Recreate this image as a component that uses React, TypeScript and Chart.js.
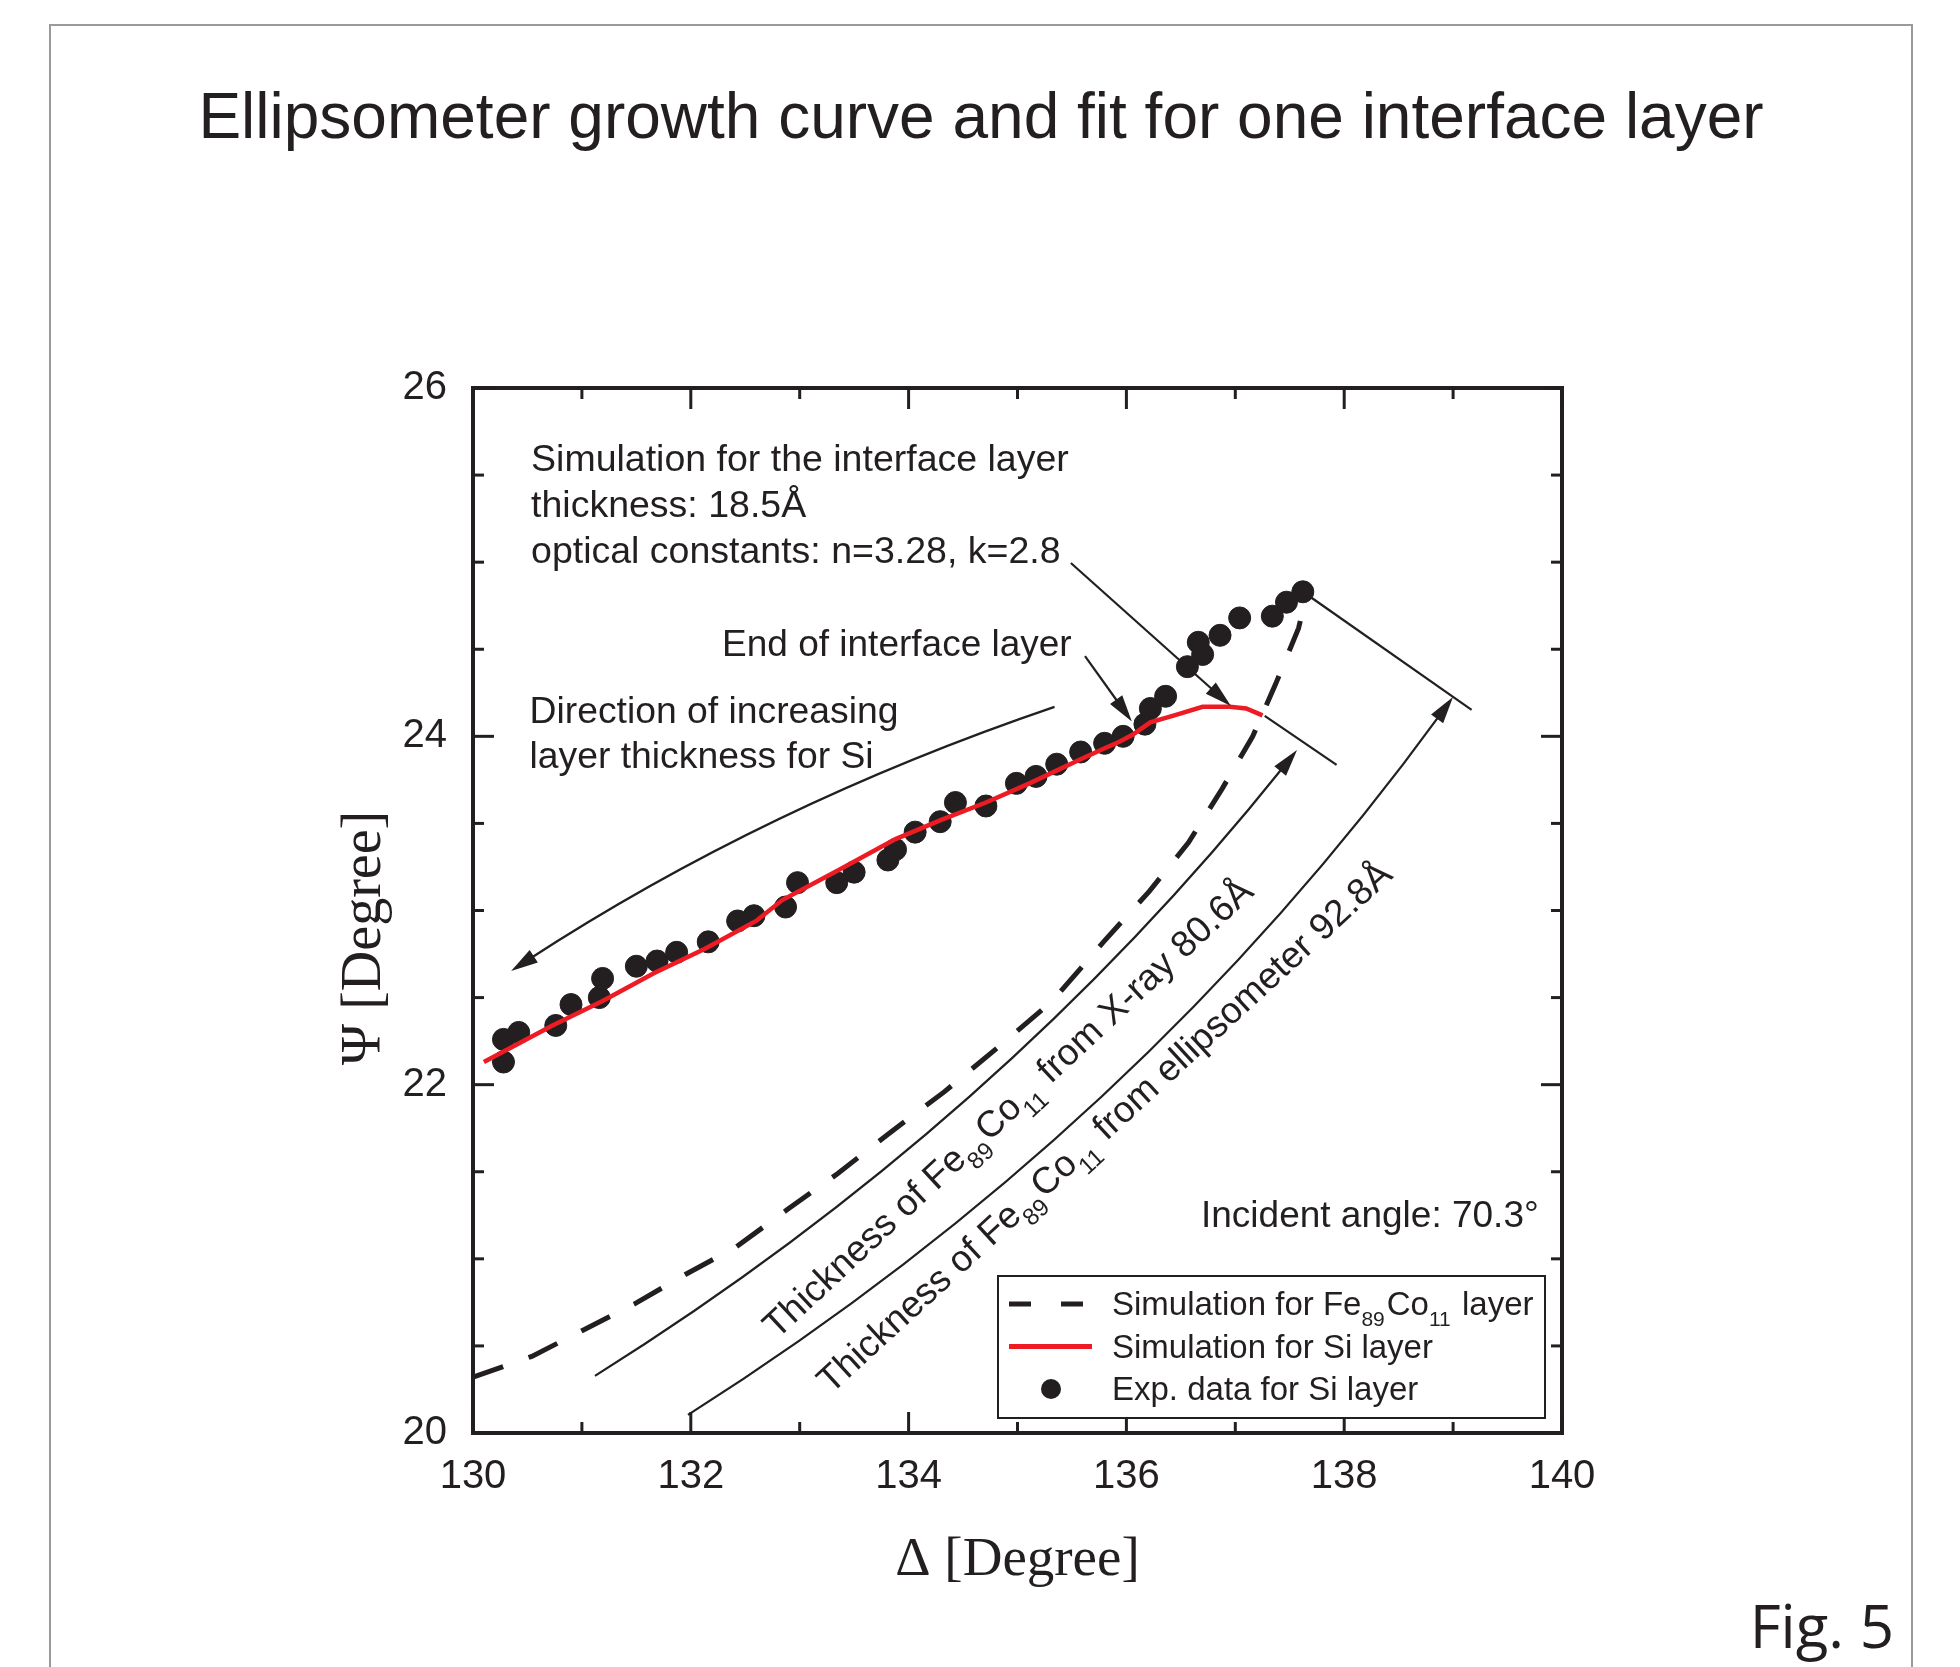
import React, { useEffect, useRef } from "react";
import { Chart, registerables } from "chart.js";

Chart.register(...registerables);

const W = 1960;
const H = 1667;
const DARK = "#231f20";
const RED = "#ed1c24";
const SANS = "'Liberation Sans', Arial, sans-serif";
const SERIF = "'Liberation Serif', 'Times New Roman', serif";

// ---------- data ----------
const expDelta = [130.28, 130.28, 130.42, 130.76, 130.9, 131.16, 131.19, 131.5, 131.69, 131.87, 132.16, 132.43, 132.58, 132.87, 132.98, 133.34, 133.5, 133.81, 133.88, 134.06, 134.29, 134.43, 134.71, 134.99, 135.17, 135.36, 135.58, 135.8, 135.97, 136.17, 136.22, 136.36, 136.56, 136.66, 136.7, 136.86, 137.04, 137.34, 137.47, 137.62];
const expPsi = [22.13, 22.26, 22.3, 22.34, 22.46, 22.5, 22.61, 22.68, 22.71, 22.76, 22.82, 22.94, 22.97, 23.02, 23.16, 23.16, 23.22, 23.29, 23.35, 23.45, 23.51, 23.62, 23.6, 23.73, 23.77, 23.84, 23.91, 23.96, 24.0, 24.07, 24.16, 24.23, 24.4, 24.54, 24.47, 24.58, 24.68, 24.69, 24.77, 24.83];

const siSimDelta = [130.1, 130.73, 131.19, 131.66, 132.13, 132.6, 132.84, 133.35, 133.88, 134.3, 134.71, 135.11, 135.55, 135.76, 135.94, 136.06, 136.22, 136.44, 136.7, 136.95, 137.1, 137.25];
const siSimPsi = [22.13, 22.34, 22.48, 22.64, 22.78, 22.94, 23.06, 23.23, 23.41, 23.52, 23.62, 23.73, 23.86, 23.92, 23.97, 24.01, 24.08, 24.12, 24.17, 24.17, 24.16, 24.12];

const feSimDelta = [130.0, 130.54, 131.01, 131.48, 131.95, 132.42, 132.88, 133.35, 133.82, 134.33, 134.85, 135.32, 135.79, 136.21, 136.57, 136.88, 137.16, 137.37, 137.58, 137.62];
const feSimPsi = [20.32, 20.44, 20.59, 20.74, 20.91, 21.07, 21.28, 21.49, 21.72, 21.96, 22.23, 22.48, 22.82, 23.11, 23.39, 23.7, 24.0, 24.3, 24.62, 24.72];

const xMajorTicks = [130, 132, 134, 136, 138, 140];
const xMinorTicks = [131, 133, 135, 137, 139];
const yMajorTicks = [20, 22, 24, 26];
const yMinorTicks = [20.5, 21, 21.5, 22.5, 23, 23.5, 24.5, 25, 25.5];

const titleText = "Ellipsometer growth curve and fit for one interface layer";
const xTitle = "Δ [Degree]";
const yTitle = "Ψ [Degree]";
const figLabel = "Fig. 5";

type Seg = { t: string; sub?: boolean };

// annotation texts (anchor in data units: left/baseline)
const notes: { segs: Seg[]; at: [number, number]; size: number }[] = [
  { segs: [{ t: "Simulation for the interface layer" }], at: [130.533, 25.524], size: 37.5 },
  { segs: [{ t: "thickness: 18.5Å" }], at: [130.533, 25.259], size: 37.5 },
  { segs: [{ t: "optical constants: n=3.28, k=2.8" }], at: [130.533, 24.995], size: 37.5 },
  { segs: [{ t: "End of interface layer" }], at: [132.287, 24.461], size: 37 },
  { segs: [{ t: "Direction of increasing" }], at: [130.519, 24.077], size: 37.3 },
  { segs: [{ t: "layer thickness for Si" }], at: [130.519, 23.819], size: 37.3 },
  { segs: [{ t: "Incident angle: 70.3°" }], at: [136.685, 21.184], size: 37 },
];

const curveLabels: { segs: Seg[]; at: [number, number]; angle: number }[] = [
  {
    segs: [{ t: "Thickness of Fe" }, { t: "89", sub: true }, { t: "Co" }, { t: "11", sub: true }, { t: " from X-ray 80.6Å" }],
    at: [132.792, 20.535],
    angle: -43,
  },
  {
    segs: [{ t: "Thickness of Fe" }, { t: "89", sub: true }, { t: "Co" }, { t: "11", sub: true }, { t: " from ellipsometer 92.8Å" }],
    at: [133.287, 20.219],
    angle: -42.6,
  },
];

// arrows (data units)
const curvedArrows: { from: [number, number]; ctrl: [number, number]; to: [number, number] }[] = [
  { from: [135.34, 24.169], ctrl: [132.69, 23.606], to: [130.35, 22.653] },
  { from: [131.12, 20.328], ctrl: [134.83, 21.781], to: [137.567, 23.922] },
  { from: [131.974, 20.104], ctrl: [136.116, 21.746], to: [138.999, 24.226] },
];
const straightArrows: { from: [number, number]; to: [number, number] }[] = [
  { from: [135.62, 24.461], to: [136.05, 24.085] },
  { from: [135.49, 24.995], to: [136.96, 24.174] },
];
const markerLines: [number, number][][] = [
  [[137.27, 24.117], [137.93, 23.836]],
  [[137.69, 24.8], [139.17, 24.152]],
];

const legendItems: { kind: string; segs: Seg[] }[] = [
  { kind: "dash", segs: [{ t: "Simulation for Fe" }, { t: "89", sub: true }, { t: "Co" }, { t: "11", sub: true }, { t: " layer" }] },
  { kind: "red", segs: [{ t: "Simulation for Si layer" }] },
  { kind: "dot", segs: [{ t: "Exp. data for Si layer" }] },
];

function drawSegs(ctx: CanvasRenderingContext2D, segs: Seg[], x: number, y: number, size: number) {
  let cx = x;
  for (const s of segs) {
    const fs = s.sub ? Math.round(size * 0.64) : size;
    ctx.font = `${fs}px ${SANS}`;
    ctx.fillText(s.t, cx, y + (s.sub ? size * 0.33 : 0));
    cx += ctx.measureText(s.t).width + (s.sub ? 2 : 0);
  }
}

function arrowHead(ctx: CanvasRenderingContext2D, tx: number, ty: number, ang: number) {
  const L = 27;
  const hw = 7.5;
  const bx = tx - L * Math.cos(ang);
  const by = ty - L * Math.sin(ang);
  const nx = -Math.sin(ang);
  const ny = Math.cos(ang);
  ctx.beginPath();
  ctx.moveTo(tx, ty);
  ctx.lineTo(bx + nx * hw, by + ny * hw);
  ctx.lineTo(bx - nx * hw, by - ny * hw);
  ctx.closePath();
  ctx.fill();
}

const decor = {
  id: "decor",
  beforeDraw(chart: any) {
    const ctx: CanvasRenderingContext2D = chart.ctx;
    ctx.save();
    ctx.fillStyle = "#ffffff";
    ctx.fillRect(0, 0, W, H);
    // outer page frame
    ctx.strokeStyle = "#9a9a9a";
    ctx.lineWidth = 2;
    ctx.beginPath();
    ctx.moveTo(50, H);
    ctx.lineTo(50, 25);
    ctx.lineTo(1912, 25);
    ctx.lineTo(1912, H);
    ctx.stroke();
    // title
    ctx.fillStyle = DARK;
    ctx.font = `64px ${SANS}`;
    ctx.textAlign = "center";
    ctx.textBaseline = "alphabetic";
    ctx.fillText(titleText, 981, 138);
    // fig label
    ctx.font = `60px 'Open Sans', ${SANS}`;
    ctx.textAlign = "right";
    ctx.fillText(figLabel, 1894, 1648);
    ctx.restore();
  },
  afterDatasetsDraw(chart: any) {
    const ctx: CanvasRenderingContext2D = chart.ctx;
    const ca = chart.chartArea;
    const sx = chart.scales.x;
    const sy = chart.scales.y;
    const px = (v: number) => sx.getPixelForValue(v);
    const py = (v: number) => sy.getPixelForValue(v);
    ctx.save();
    ctx.strokeStyle = DARK;
    ctx.fillStyle = DARK;

    // annotation lines
    ctx.lineWidth = 2.2;
    for (const a of curvedArrows) {
      const x0 = px(a.from[0]), y0 = py(a.from[1]);
      const cx = px(a.ctrl[0]), cy = py(a.ctrl[1]);
      const x1 = px(a.to[0]), y1 = py(a.to[1]);
      const ang = Math.atan2(y1 - cy, x1 - cx);
      ctx.beginPath();
      ctx.moveTo(x0, y0);
      ctx.quadraticCurveTo(cx, cy, x1 - 20 * Math.cos(ang), y1 - 20 * Math.sin(ang));
      ctx.stroke();
      arrowHead(ctx, x1, y1, ang);
    }
    for (const a of straightArrows) {
      const x0 = px(a.from[0]), y0 = py(a.from[1]);
      const x1 = px(a.to[0]), y1 = py(a.to[1]);
      const ang = Math.atan2(y1 - y0, x1 - x0);
      ctx.beginPath();
      ctx.moveTo(x0, y0);
      ctx.lineTo(x1 - 20 * Math.cos(ang), y1 - 20 * Math.sin(ang));
      ctx.stroke();
      arrowHead(ctx, x1, y1, ang);
    }
    for (const l of markerLines) {
      ctx.beginPath();
      ctx.moveTo(px(l[0][0]), py(l[0][1]));
      ctx.lineTo(px(l[1][0]), py(l[1][1]));
      ctx.stroke();
    }

    // texts
    ctx.textAlign = "left";
    ctx.textBaseline = "alphabetic";
    for (const n of notes) {
      drawSegs(ctx, n.segs, px(n.at[0]), py(n.at[1]), n.size);
    }
    for (const c of curveLabels) {
      ctx.save();
      ctx.translate(px(c.at[0]), py(c.at[1]));
      ctx.rotate((c.angle * Math.PI) / 180);
      drawSegs(ctx, c.segs, 0, 0, 37);
      ctx.restore();
    }

    // plot frame
    ctx.lineWidth = 4;
    ctx.strokeRect(ca.left, ca.top, ca.right - ca.left, ca.bottom - ca.top);
    // inward ticks on all sides
    ctx.lineWidth = 3;
    const tick = (x0: number, y0: number, x1: number, y1: number) => {
      ctx.beginPath();
      ctx.moveTo(x0, y0);
      ctx.lineTo(x1, y1);
      ctx.stroke();
    };
    for (const v of xMajorTicks) {
      const x = px(v);
      tick(x, ca.bottom, x, ca.bottom - 21);
      tick(x, ca.top, x, ca.top + 21);
    }
    for (const v of xMinorTicks) {
      const x = px(v);
      tick(x, ca.bottom, x, ca.bottom - 11);
      tick(x, ca.top, x, ca.top + 11);
    }
    for (const v of yMajorTicks) {
      const y = py(v);
      tick(ca.left, y, ca.left + 21, y);
      tick(ca.right, y, ca.right - 21, y);
    }
    for (const v of yMinorTicks) {
      const y = py(v);
      tick(ca.left, y, ca.left + 11, y);
      tick(ca.right, y, ca.right - 11, y);
    }

    // y axis title
    ctx.save();
    ctx.translate(365, ca.top + 550);
    ctx.rotate(-Math.PI / 2);
    ctx.font = `56px ${SERIF}`;
    ctx.textAlign = "center";
    ctx.textBaseline = "middle";
    ctx.fillText(yTitle, 0, 0);
    ctx.restore();

    // legend
    const lx = ca.right - 564;
    const ly = ca.bottom - 157;
    const lw = 547;
    const lh = 142;
    ctx.fillStyle = "#ffffff";
    ctx.fillRect(lx, ly, lw, lh);
    ctx.strokeStyle = DARK;
    ctx.lineWidth = 2;
    ctx.strokeRect(lx, ly, lw, lh);
    ctx.fillStyle = DARK;
    legendItems.forEach((it, i) => {
      const cy = ly + 28 + i * 42.5;
      if (it.kind === "dash") {
        ctx.save();
        ctx.lineWidth = 5;
        ctx.setLineDash([22, 30]);
        ctx.beginPath();
        ctx.moveTo(lx + 11, cy);
        ctx.lineTo(lx + 85, cy);
        ctx.stroke();
        ctx.restore();
      } else if (it.kind === "red") {
        ctx.save();
        ctx.strokeStyle = RED;
        ctx.lineWidth = 5;
        ctx.beginPath();
        ctx.moveTo(lx + 11, cy);
        ctx.lineTo(lx + 94, cy);
        ctx.stroke();
        ctx.restore();
      } else {
        ctx.beginPath();
        ctx.arc(lx + 53, cy, 10, 0, Math.PI * 2);
        ctx.fill();
      }
      ctx.textAlign = "left";
      ctx.textBaseline = "alphabetic";
      drawSegs(ctx, it.segs, lx + 114, cy + 11, 33);
    });

    ctx.restore();
  },
};

export default function App() {
  const ref = useRef<HTMLCanvasElement | null>(null);
  useEffect(() => {
    if (!ref.current) return;
    Chart.defaults.font.family = SANS;
    Chart.defaults.color = DARK;
    const chart = new Chart(ref.current, {
      type: "scatter",
      data: {
        datasets: [
          {
            label: "Exp. data for Si layer",
            data: expDelta.map((x, i) => ({ x, y: expPsi[i] })),
            showLine: false,
            pointRadius: 11,
            pointBackgroundColor: DARK,
            pointBorderColor: DARK,
            pointBorderWidth: 1,
            order: 3,
          },
          {
            label: "Simulation for Fe89Co11 layer",
            data: feSimDelta.map((x, i) => ({ x, y: feSimPsi[i] })),
            showLine: true,
            borderColor: DARK,
            borderWidth: 5,
            borderDash: [32, 27],
            pointRadius: 0,
            tension: 0,
            order: 2,
          },
          {
            label: "Simulation for Si layer",
            data: siSimDelta.map((x, i) => ({ x, y: siSimPsi[i] })),
            showLine: true,
            borderColor: RED,
            borderWidth: 4.5,
            pointRadius: 0,
            tension: 0,
            order: 1,
          },
        ],
      },
      options: {
        responsive: false,
        animation: false,
        devicePixelRatio: 1,
        events: [],
        layout: { padding: { left: 0, top: 388, right: 398, bottom: 0 } },
        plugins: {
          legend: { display: false },
          tooltip: { enabled: false },
          title: { display: false },
        },
        scales: {
          x: {
            type: "linear",
            position: "bottom",
            min: 130,
            max: 140,
            ticks: { stepSize: 2, font: { size: 40, family: SANS }, color: DARK, padding: 20 },
            grid: { display: false, drawTicks: false },
            border: { display: false },
            title: {
              display: true,
              text: xTitle,
              color: DARK,
              font: { family: SERIF, size: 55 },
              padding: { top: 0, bottom: 73 },
            },
            afterFit: (s: any) => {
              s.height = 234;
            },
          },
          y: {
            type: "linear",
            position: "left",
            min: 20,
            max: 26,
            ticks: { stepSize: 2, font: { size: 40, family: SANS }, color: DARK, padding: 26 },
            grid: { display: false, drawTicks: false },
            border: { display: false },
            title: { display: false },
            afterFit: (s: any) => {
              s.width = 473;
            },
          },
        },
      },
      plugins: [decor],
    } as any);
    return () => chart.destroy();
  }, []);
  return (
    <div style={{ position: "absolute", left: 0, top: 0, width: W, height: H, background: "#fff" }}>
      <canvas ref={ref} width={W} height={H} style={{ width: W, height: H, display: "block" }} />
    </div>
  );
}
